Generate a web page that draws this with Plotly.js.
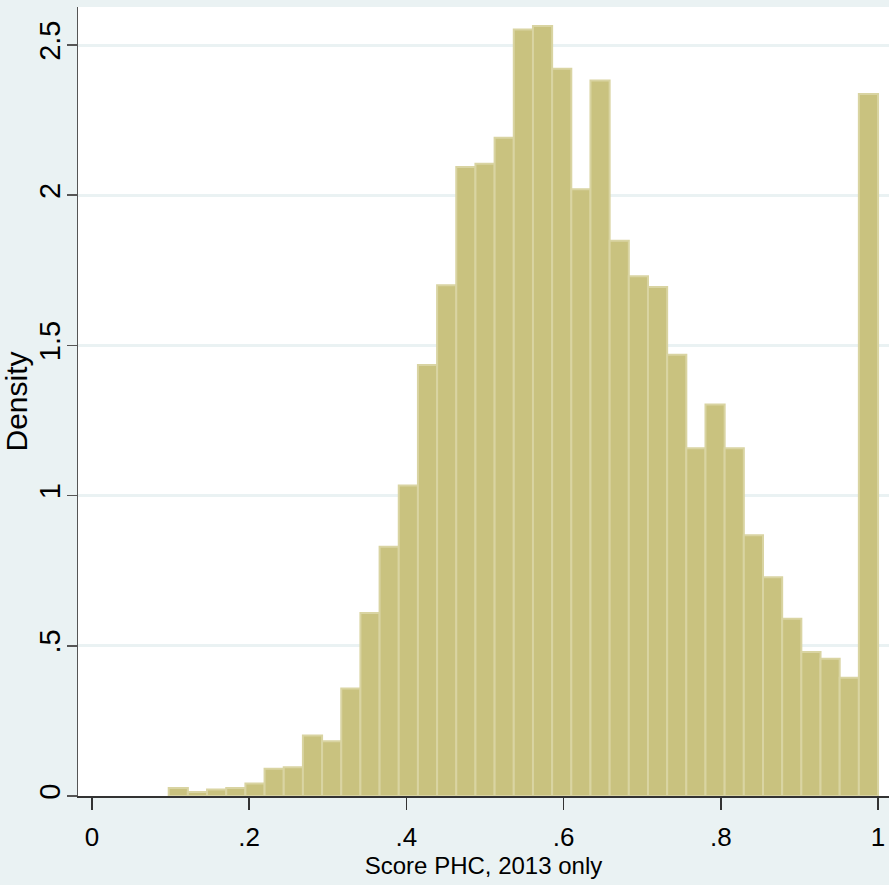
<!DOCTYPE html>
<html>
<head>
<meta charset="utf-8">
<script src="https://cdn.plot.ly/plotly-3.0.1.min.js"></script>
<style>
  html, body { margin: 0; padding: 0; background: #EAF2F3; }
  #chart { width: 889px; height: 885px; }
</style>
</head>
<body>
<div id="chart"></div>
<script>
// Histogram of "Score PHC, 2013 only" (density scale)
const binStart = 0.0976;
const binWidth = 0.02439;
const density = [0.027, 0.013, 0.022, 0.027, 0.042, 0.091, 0.096, 0.201, 0.182, 0.358,
                 0.609, 0.830, 1.034, 1.435, 1.700, 2.094, 2.105, 2.191, 2.552, 2.563,
                 2.421, 2.020, 2.382, 1.848, 1.730, 1.694, 1.469, 1.158, 1.303, 1.158,
                 0.868, 0.728, 0.590, 0.479, 0.457, 0.394, 2.337];
const xTickVals = [0, 0.2, 0.4, 0.6, 0.8, 1];
const xTickText = ["0", ".2", ".4", ".6", ".8", "1"];
const yTickVals = [0, 0.5, 1, 1.5, 2, 2.5];
const yTickText = ["0", ".5", "1", "1.5", "2", "2.5"];
const xTitle = "Score PHC, 2013 only";
const yTitle = "Density";

const centers = density.map((_, i) => binStart + (i + 0.5) * binWidth);

const trace = {
  type: "bar",
  x: centers,
  y: density,
  width: density.map(() => binWidth),
  marker: { color: "#C9C27F", line: { color: "#D9D4A2", width: 2 } },
  hoverinfo: "x+y"
};

const regular = "'Liberation Sans', Arial, sans-serif";

const layout = {
  width: 889,
  height: 885,
  margin: { l: 78, r: 0, t: 7, b: 89, pad: 0 },
  paper_bgcolor: "#EAF2F3",
  plot_bgcolor: "#FFFFFF",
  showlegend: false,
  bargap: 0,
  xaxis: {
    range: [-0.01781, 1.01399],
    tickmode: "array",
    tickvals: xTickVals,
    ticktext: xTickText,
    ticks: "outside",
    ticklen: 12,
    tickwidth: 1.5,
    tickcolor: "#333333",
    showline: true,
    linecolor: "#333333",
    linewidth: 1.5,
    showgrid: false,
    zeroline: false,
    ticklabelstandoff: 5,
    tickfont: { family: regular, size: 26, color: "#000000" },
    title: { text: xTitle, font: { family: regular, size: 24, color: "#000000" }, standoff: 6 }
  },
  yaxis: {
    range: [0, 2.6265],
    tickmode: "array",
    tickvals: yTickVals,
    ticktext: yTickText,
    tickangle: -90,
    ticks: "outside",
    ticklen: 10,
    tickwidth: 1.5,
    tickcolor: "#555555",
    showline: true,
    linecolor: "#555555",
    linewidth: 1.5,
    showgrid: true,
    gridcolor: "#EAF2F3",
    gridwidth: 3,
    zeroline: false,
    ticklabelstandoff: -5,
    tickfont: { family: regular, size: 29, color: "#000000" },
    title: { text: yTitle, font: { family: regular, size: 30, color: "#000000" }, standoff: 0 }
  }
};

Plotly.newPlot("chart", [trace], layout, { displayModeBar: false, staticPlot: true });
</script>
</body>
</html>
